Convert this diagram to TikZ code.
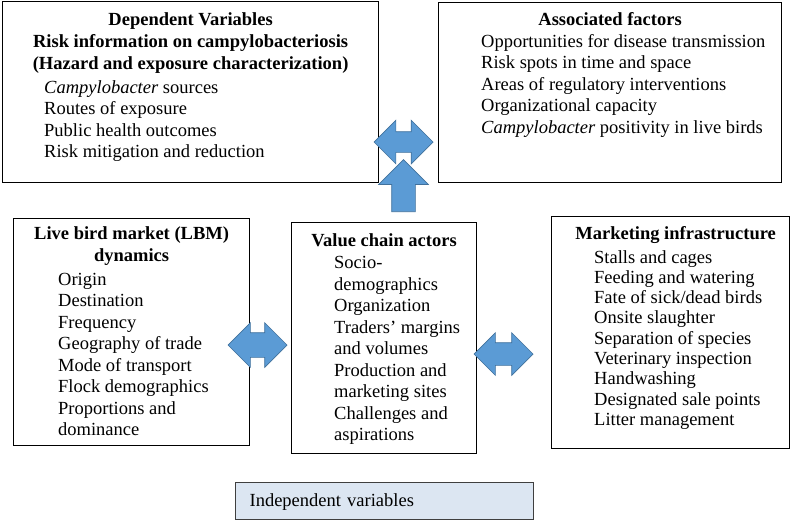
\documentclass[tikz,border=0pt]{standalone}
\usepackage{fontspec}
\setmainfont{Liberation Serif}
\usepackage{tikz}
\usetikzlibrary{positioning, shapes.arrows}

\definecolor{arrowblue}{HTML}{5B9BD5}
\definecolor{arrowedge}{HTML}{41719C}
\definecolor{indepfill}{HTML}{DCE6F2}
\definecolor{indepedge}{HTML}{3F3F3F}

\begin{document}
\begin{tikzpicture}[
    x=1pt, y=-1pt,
    font=\fontsize{18.5}{21.5}\selectfont,
    box/.style={draw, line width=1.2pt, anchor=north west, inner sep=0pt},
    head/.style={font=\fontsize{18.5}{22}\selectfont\bfseries, align=center, inner sep=0pt},
    items/.style={align=left, inner sep=0pt},
    dblarrow/.style={double arrow, draw=arrowedge, fill=arrowblue, line width=0.7pt,
        inner xsep=0pt, double arrow tip angle=90},
    uparrow/.style={single arrow, draw=arrowedge, fill=arrowblue, line width=0.7pt,
        inner xsep=0pt, single arrow tip angle=90},
    indepbox/.style={draw=indepedge, fill=indepfill, line width=1.2pt, anchor=north west,
        inner xsep=14pt, align=left}
]
\useasboundingbox (0,0) rectangle (800,520);

% 框
\node[box, minimum width=376pt, minimum height=181pt] (dep) at (2,1) {};
\node[box, minimum width=343pt, minimum height=180pt] (assoc) at (438,2) {};
\node[box, minimum width=236pt, minimum height=227pt] (lbm) at (13,218) {};
\node[box, minimum width=185pt, minimum height=231pt] (actors) at (291,222) {};
\node[box, minimum width=238pt, minimum height=232pt] (infra) at (551,216) {};
\node[indepbox, minimum width=298pt, minimum height=37pt, text width=270pt,
    text height=13pt, text depth=3pt] (indep) at (235,482) {Independent variables};

% 标题
\node[head, below=11.5pt of dep.north] (depHead)
    {Dependent Variables\\Risk information on campylobacteriosis\\(Hazard and exposure characterization)};
\node[head, below=10.3pt of assoc.north] (assocHead) {Associated factors};
\node[head, below=8.3pt of lbm.north] (lbmHead) {Live bird market (LBM)\\dynamics};
\node[head, below=11pt of actors.north] (actorsHead) {Value chain actors};
\node[head, below=10.3pt of infra.north, xshift=5pt] (infraHead) {Marketing infrastructure};

% 条目
\node[items, below right=79.3pt and 42pt of dep.north west] (depList)
    {\textit{Campylobacter} sources\\Routes of exposure\\Public health outcomes\\Risk mitigation and reduction};
\node[items, below right=32pt and 43pt of assoc.north west] (assocList)
    {Opportunities for disease transmission\\Risk spots in time and space\\Areas of regulatory interventions\\
     Organizational capacity\\\textit{Campylobacter} positivity in live birds};
\node[items, below right=54.8pt and 45pt of lbm.north west] (lbmList)
    {Origin\\Destination\\Frequency\\Geography of trade\\Mode of transport\\Flock demographics\\
     Proportions and\\dominance};
\node[items, below right=34.3pt and 43pt of actors.north west] (actorsList)
    {Socio-\\demographics\\Organization\\Traders’ margins\\and volumes\\Production and\\
     marketing sites\\Challenges and\\aspirations};
\node[items, font=\fontsize{18.5}{20.3}\selectfont, below right=34pt and 43pt of infra.north west] (infraList)
    {Stalls and cages\\Feeding and watering\\Fate of sick/dead birds\\Onsite slaughter\\
     Separation of species\\Veterinary inspection\\Handwashing\\Designated sale points\\Litter management};

% 箭头
\node[dblarrow, minimum height=59pt, minimum width=43pt, inner ysep=10pt,
    double arrow head extend=11.5pt] (topArrow) at (403.5,142) {};
\node[uparrow, rotate=90, anchor=tail, minimum height=52pt, minimum width=49pt, inner ysep=11.5pt,
    single arrow head extend=13pt] (upArrow) at (403.5,212) {};
\node[dblarrow, minimum height=59pt, minimum width=44pt, inner ysep=12pt,
    double arrow head extend=10pt] (leftArrow) at (257.5,345) {};
\node[dblarrow, minimum height=59pt, minimum width=42pt, inner ysep=11pt,
    double arrow head extend=10pt] (rightArrow) at (503.5,354) {};

\end{tikzpicture}
\end{document}
